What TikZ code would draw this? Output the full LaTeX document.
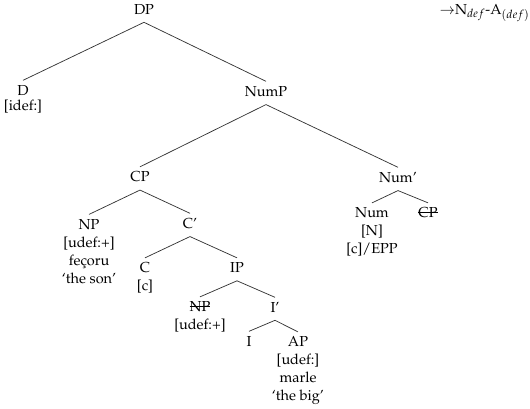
\documentclass[tikz,border=0pt]{standalone}
\usepackage[T1]{fontenc}
\usepackage{mathpazo}
\newcommand{\strk}[1]{\setbox0\hbox{#1}\rlap{\rule[0.33em]{\wd0}{0.4pt}}\box0}
\newcommand{\subit}[1]{$_{\mbox{\fontsize{8}{9}\selectfont$#1$}}$}
\begin{document}
\begin{tikzpicture}[x=0.69pt,y=-0.69pt,
  every node/.style={font=\fontsize{10}{12.4}\selectfont, inner xsep=2pt, inner ysep=3pt, align=center, anchor=base},
  br/.style={draw=black!80, line width=0.5pt}]
\useasboundingbox (0,0) rectangle (530,409);
\node (DP) at (144,14) {DP};
\node[font=\fontsize{10}{10.35}\selectfont] (D) at (23,110) {D\\{[idef:]}};
\node (NumP) at (266,96) {NumP};
\node (CP) at (140,181.5) {CP};
\node (Numb) at (398,182) {Num'};
\node (NP) at (89,283) {NP\\{[udef:+]}\\fe\c{c}oru\\`the son'};
\node (Cbar) at (190,228) {C'};
\node (C) at (145,290.5) {C\\{[c]}};
\node (IP) at (237,272.5) {IP};
\node (NPt) at (200,329.5) {\strk{NP}\\{[udef:+]}};
\node (Ibar) at (275,312) {I'};
\node (I) at (249,346) {I};
\node (AP) at (298,400.5) {AP\\{[udef:]}\\marle\\`the big'};
\node (Num) at (372,253.5) {Num\\{[N]}\\{[c]/EPP}};
\node (CPt) at (428,217.5) {\strk{CP}};
\node[anchor=base east, inner xsep=0pt] (note) at (530,14) {$\rightarrow$N\subit{def}-A\subit{(def)}};
\foreach \a/\b in {DP/D, DP/NumP, NumP/CP, NumP/Numb, CP/NP, CP/Cbar, Cbar/C, Cbar/IP, IP/NPt, IP/Ibar, Ibar/I, Ibar/AP, Numb/Num, Numb/CPt}
  \draw[br] ([yshift=-2.5pt]\a.south) -- (\b.north);
\end{tikzpicture}
\end{document}
